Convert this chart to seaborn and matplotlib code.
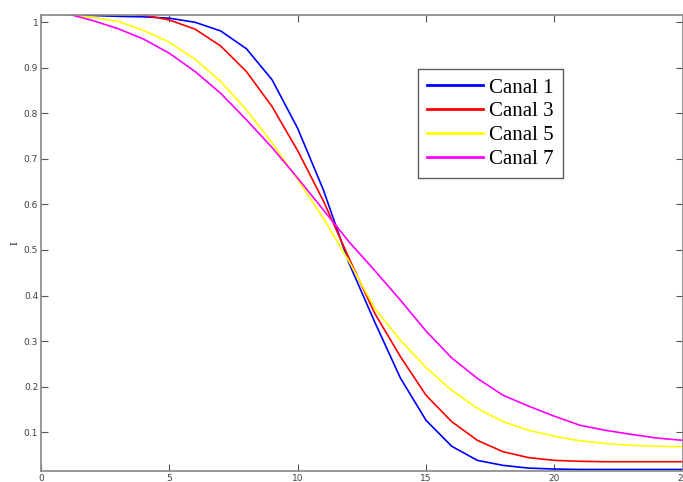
import numpy as np
import pandas as pd
import matplotlib
matplotlib.use("Agg")
import matplotlib.pyplot as plt
import seaborn as sns

# Sample positions and normalised intensity per channel
x = list(range(1, 26))
canal_1 = [1.016, 1.015, 1.013, 1.012, 1.009, 1.000, 0.981, 0.942, 0.874, 0.767,
           0.632, 0.471, 0.342, 0.219, 0.126, 0.069, 0.038, 0.027, 0.021, 0.019,
           0.018, 0.018, 0.018, 0.018, 0.018]
canal_3 = [1.024, 1.022, 1.020, 1.016, 1.005, 0.985, 0.948, 0.892, 0.815, 0.718,
           0.608, 0.482, 0.361, 0.266, 0.181, 0.123, 0.082, 0.057, 0.044, 0.038,
           0.036, 0.035, 0.035, 0.035, 0.035]
canal_5 = [1.017, 1.011, 1.002, 0.982, 0.956, 0.919, 0.870, 0.808, 0.735, 0.655,
           0.570, 0.475, 0.372, 0.302, 0.242, 0.192, 0.152, 0.123, 0.104, 0.091,
           0.081, 0.075, 0.071, 0.069, 0.068]
canal_7 = [1.019, 1.004, 0.986, 0.963, 0.932, 0.892, 0.844, 0.786, 0.725, 0.658,
           0.588, 0.518, 0.455, 0.390, 0.322, 0.263, 0.218, 0.181, 0.157, 0.135,
           0.115, 0.104, 0.095, 0.087, 0.082]

labels = ["Canal 1", "Canal 3", "Canal 5", "Canal 7"]
colors = ["#0000ff", "#ff0000", "#ffff00", "#ff00ff"]

df = pd.concat(
    [pd.DataFrame({"x": x, "I": v, "canal": lab})
     for v, lab in zip([canal_1, canal_3, canal_5, canal_7], labels)],
    ignore_index=True,
)

fig = plt.figure(figsize=(6.83, 4.82), dpi=100)
ax = fig.add_axes([41 / 683, 10.7 / 482, 641.7 / 683, 456.3 / 482])

sns.lineplot(data=df, x="x", y="I", hue="canal", hue_order=labels,
             palette=colors, linewidth=1.2, ax=ax, legend=True)

ax.set_xlim(0, 25)
ax.set_ylim(0.014, 1.016)
ax.set_xticks([0, 5, 10, 15, 20, 25])
ax.set_yticks([0.1, 0.2, 0.3, 0.4, 0.5, 0.6, 0.7, 0.8, 0.9, 1.0])
ax.set_yticklabels(["0.1", "0.2", "0.3", "0.4", "0.5", "0.6", "0.7", "0.8", "0.9", "1"])
ax.tick_params(direction="in", length=5, width=0.8, colors="#555555",
               labelcolor="#404040", labelsize=6.5, top=True, right=True,
               pad=2)
for s in ax.spines.values():
    s.set_color("#888888")
    s.set_linewidth(1.2)

ax.set_xlabel("")
ax.set_ylabel("I", family="Liberation Serif", fontsize=8, color="#101030",
              labelpad=3)

handles, _ = ax.get_legend_handles_labels()
for h in handles:
    h.set_linewidth(2.0)
leg = ax.legend(handles, labels, loc="upper left",
                bbox_to_anchor=(418 / 683, 1 - 69.3 / 482),
                bbox_transform=fig.transFigure,
                prop={"family": "Liberation Serif", "size": 15},
                frameon=True, fancybox=False, edgecolor="#333333",
                handlelength=2.7, handletextpad=0.3, labelspacing=0.2,
                borderpad=0.42, borderaxespad=0)
leg.get_frame().set_linewidth(1.0)

fig.savefig("out.png", dpi=100)
